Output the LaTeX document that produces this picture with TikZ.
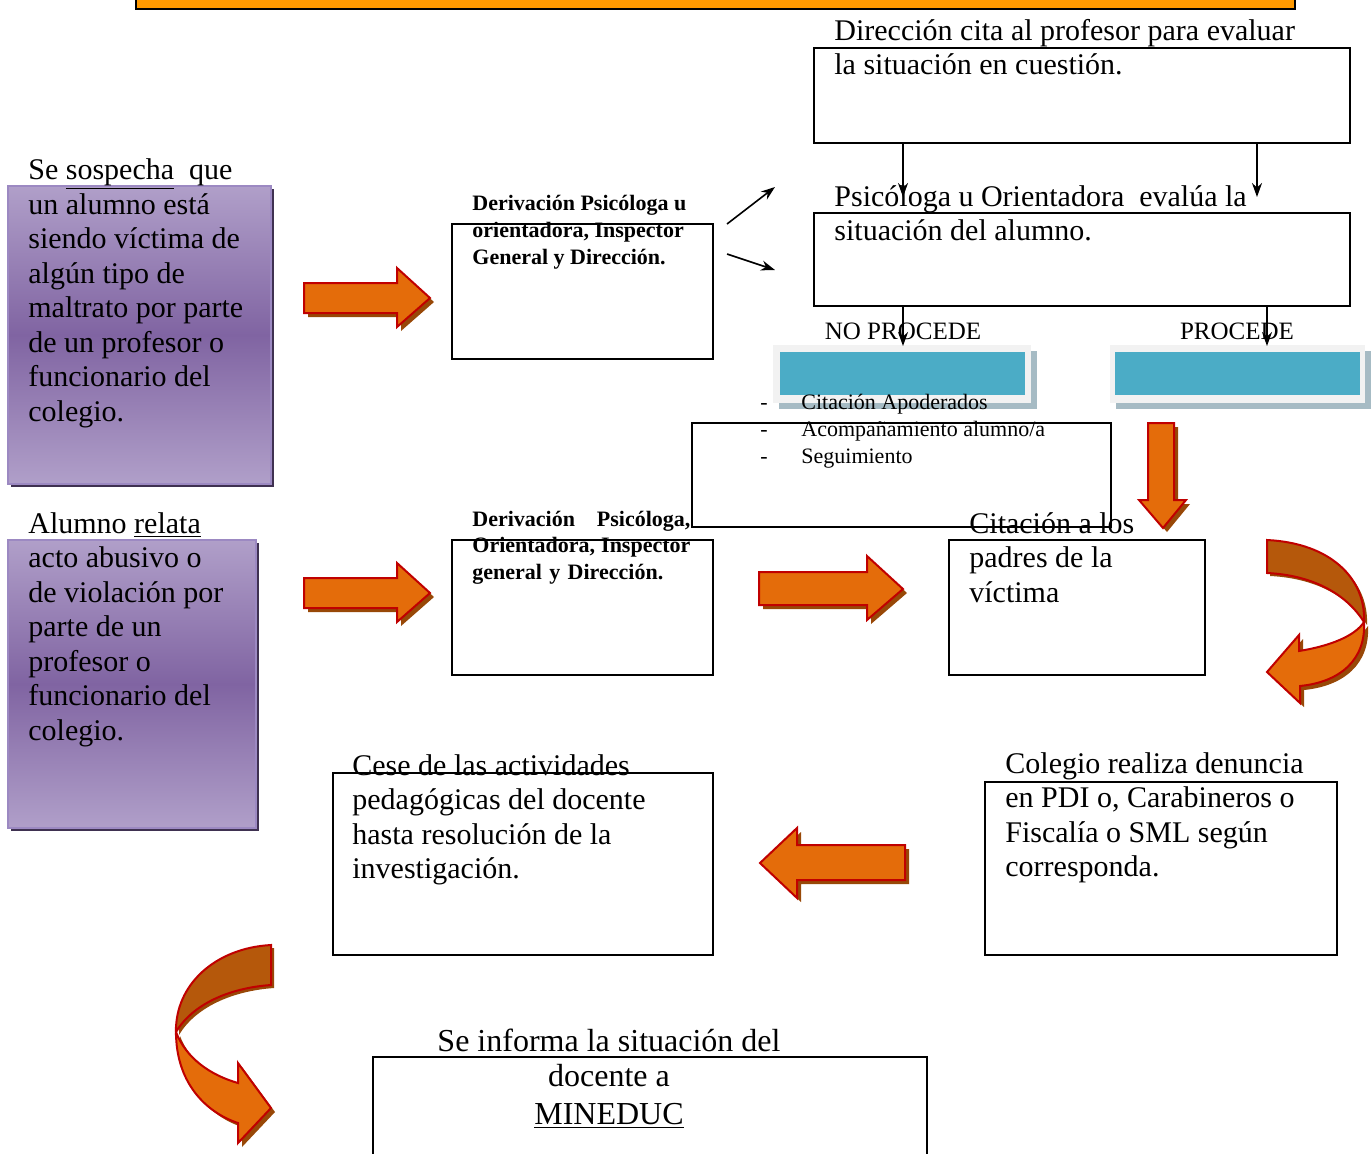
\documentclass[tikz,border=0pt]{standalone}
\usepackage{fontspec}
\setmainfont{Liberation Serif}
\usetikzlibrary{fit,shadows,arrows.meta}
\definecolor{obar}{HTML}{FF9900}
\definecolor{ofill}{HTML}{E46C0A}
\definecolor{ored}{HTML}{C00000}
\definecolor{oshadow}{HTML}{984807}
\definecolor{odark}{HTML}{B5580B}
\definecolor{plight}{HTML}{B09FC9}
\definecolor{pmid}{HTML}{8064A2}
\definecolor{pborder}{HTML}{9C89C2}
\definecolor{pshadow}{HTML}{3F3151}
\definecolor{cblue}{HTML}{4BACC6}
\definecolor{cframe}{HTML}{F2F2F2}
\definecolor{cshadow}{HTML}{A6BBC4}
\begin{document}
\begin{tikzpicture}[x=0.5pt,y=-0.5pt,
  rbox/.style={draw=black, line width=0.8pt, inner sep=0pt, fill=white},
  pbox/.style={draw=pborder, line width=1pt, inner sep=0pt, top color=plight, bottom color=plight, middle color=pmid,
     drop shadow={shadow xshift=1.5pt, shadow yshift=-1.5pt, fill=pshadow, opacity=1}},
  big/.style={font=\fontsize{15}{17.25}\selectfont, inner sep=0pt, anchor=base west, align=left},
  small/.style={font=\fontsize{11}{13.5}\selectfont, inner sep=0pt, anchor=base west, align=left},
  smallb/.style={font=\fontsize{11}{13.3}\selectfont\bfseries, inner sep=0pt, anchor=base west, align=left},
  lbl/.style={font=\fontsize{12.5}{15}\selectfont, inner sep=0pt, anchor=base},
  oarrow/.style={fill=ofill, draw=ored, line width=1pt, line join=miter,
     drop shadow={shadow xshift=2pt, shadow yshift=-2pt, fill=oshadow, opacity=1}},
  oback/.style={fill=odark, draw=ored, line width=1pt,
     drop shadow={shadow xshift=1.5pt, shadow yshift=-1.5pt, fill=oshadow, opacity=1}},
  arr/.style={draw=black, line width=0.8pt, -{Stealth[length=7pt,width=5pt]}},
  bframe/.style={fill=cframe, inner sep=0pt,
     drop shadow={shadow xshift=3pt, shadow yshift=-3pt, fill=cshadow, opacity=1}},
  bfill/.style={fill=cblue, inner sep=0pt}
]
\useasboundingbox (0,0) rectangle (1372,1153);

% top bar
\node[fit={(136,-20) (1295,9)}, draw=black, line width=0.8pt, fill=obar, inner sep=0pt] (bar) {};

% boxes
\node[rbox, fit={(814,48) (1350,143)}] (dir) {};
\node[rbox, fit={(814,213) (1350,306)}] (psi) {};
\node[rbox, fit={(452,224) (713,359)}] (der1) {};
\node[rbox, fit={(452,540) (713,675)}] (der2) {};
\node[rbox, fit={(692,423) (1111,527)}, fill=none] (lst) {};
\node[rbox, fit={(949,540) (1205,675)}] (cit) {};
\node[rbox, fit={(985,782) (1337,955)}] (col) {};
\node[rbox, fit={(333,773) (713,955)}] (cese) {};
\node[rbox, fit={(373,1057) (927,1180)}] (inf) {};

% purple boxes
\node[pbox, fit={(8,186) (271,484)}] (p1) {};
\node[pbox, fit={(8,540) (256,828)}] (p2) {};

% blue boxes
\node[bframe, fit={(773,345) (1031,403)}] (nof) {};
\node[bfill, fit={(780,352) (1025,395)}] (nob) {};
\node[bframe, fit={(1110,345) (1365,403)}] (prf) {};
\node[bfill, fit={(1115,352) (1360,395)}] (prb) {};

% orange straight arrows
\draw[oarrow] (304,283) -- (397,283) -- (397,268) -- (430,298) -- (397,327) -- (397,313) -- (304,313) -- cycle;
\draw[oarrow] (304,578) -- (397,578) -- (397,563) -- (430,593) -- (397,622) -- (397,608) -- (304,608) -- cycle;
\draw[oarrow] (759,572) -- (867,572) -- (867,556) -- (903,589) -- (867,620) -- (867,605) -- (759,605) -- cycle;
\draw[oarrow] (905,845) -- (797,845) -- (797,828) -- (760,863) -- (797,898) -- (797,880) -- (905,880) -- cycle;
\draw[oarrow] (1148,423) -- (1174,423) -- (1174,500) -- (1186,500) -- (1163,528) -- (1139,500) -- (1148,500) -- cycle;

% curved arrow right
\draw[oback] (1267,540) .. controls (1330,543) and (1366,578) .. (1364,622)
   .. controls (1345,592) and (1310,575) .. (1267,573) -- cycle;
\draw[oarrow] (1364,622) .. controls (1366,660) and (1340,682) .. (1300,686)
   -- (1300,703) -- (1267,672) -- (1299,635) -- (1299,651)
   .. controls (1330,646) and (1355,636) .. (1364,622) -- cycle;

% curved arrow left bottom
\draw[oback] (271,945) .. controls (215,948) and (175,985) .. (176,1032)
   .. controls (192,1005) and (228,988) .. (271,985) -- cycle;
\draw[oarrow] (176,1032) .. controls (176,1082) and (205,1112) .. (238,1123)
   -- (238,1143) -- (271,1108) -- (238,1063) -- (238,1083)
   .. controls (210,1075) and (186,1058) .. (176,1032) -- cycle;

% texts (base anchor = baseline of the last line)
\node[big] (tdir) at (834,74.5) {Dirección cita al profesor para evaluar\\la situación en cuestión.};
\node[big] (tpsi) at (834,240.5) {Psicóloga u Orientadora\ \ evalúa la\\situación del alumno.};
\node[big] (tp1) at (28,421) {Se \underline{sospecha}\ \ que\\un alumno está\\siendo víctima de\\algún tipo de\\maltrato por parte\\de un profesor o\\funcionario del\\colegio.};
\node[big] (tp2) at (28,740) {Alumno \underline{relata}\\acto abusivo o\\de violación por\\parte de un\\profesor o\\funcionario del\\colegio.};
\node[smallb] (td1) at (472,264) {Derivación Psicóloga u\\orientadora, Inspector\\General y Dirección.};
\node[smallb, text width=109pt] (td2) at (472,526) {Derivación\hfill Psicóloga,\\Orientadora,\hfill Inspector\\general y Dirección.};
\node[lbl] (tnp) at (903,339) {NO PROCEDE};
\node[lbl] (tpr) at (1237,339) {PROCEDE};
\node[small] (tlst) at (760,463) {\makebox[20.5pt][l]{-}Citación Apoderados\\\makebox[20.5pt][l]{-}Acompañamiento alumno/a\\\makebox[20.5pt][l]{-}Seguimiento};
\node[big] (tcit) at (969,602) {Citación a los\\padres de la\\víctima};
\node[big] (tcol) at (1005,876.5) {Colegio realiza denuncia\\en PDI o, Carabineros o\\Fiscalía o SML según\\corresponda.};
\node[big] (tcese) at (352,878.5) {Cese de las actividades\\pedagógicas del docente\\hasta resolución de la\\investigación.};
\node[big, font=\fontsize{16}{17.5}\selectfont, anchor=base, align=center] (tinf) at (609,1124) {Se informa la situación del\\docente a\\[1.5pt]\underline{MINEDUC}};

% black connectors
\coordinate (e1) at (903,197);
\coordinate (e2) at (1257,197);
\coordinate (e3) at (903,346);
\coordinate (e4) at (1267,346);
\coordinate (s5) at (727,224);
\coordinate (e5) at (775,187);
\coordinate (s6) at (727,254);
\coordinate (e6) at (775,270);
\draw[arr] (dir.south -| e1) -- (e1);
\draw[arr] (dir.south -| e2) -- (e2);
\draw[arr] (psi.south -| e3) -- (e3);
\draw[arr] (psi.south -| e4) -- (e4);
\draw[arr] (s5) -- (e5);
\draw[arr] (s6) -- (e6);
\end{tikzpicture}
\end{document}
